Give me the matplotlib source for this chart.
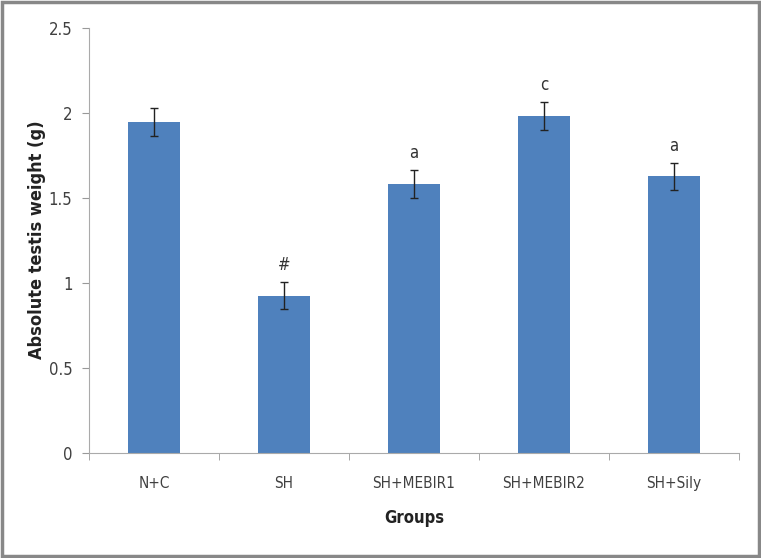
import matplotlib.pyplot as plt
import matplotlib.patches as patches
import numpy as np

plt.rcParams['font.family'] = ['DejaVu Sans']
plt.rcParams['font.stretch'] = 'condensed'

groups = ['N+C', 'SH', 'SH+MEBIR1', 'SH+MEBIR2', 'SH+Sily']
weights = [1.945, 0.922, 1.58, 1.98, 1.626]
errors = [0.08, 0.08, 0.083, 0.083, 0.08]
marks = ['', '#', 'a', 'c', 'a']

fig = plt.figure(figsize=(7.61, 5.58), dpi=100)
ax = fig.add_axes([0.117, 0.1887, 0.854, 0.762])

x = np.arange(len(groups))
ax.bar(x, weights, width=0.4, color='#4f81bd', zorder=2)
ax.errorbar(x, weights, yerr=errors, fmt='none', ecolor='#222222',
            elinewidth=1, capsize=3, capthick=1, zorder=3)

for xi, w, e, m in zip(x, weights, errors, marks):
    if m:
        ax.text(xi, w + e + 0.1, m, ha='center', va='center',
                fontsize=12, color='#333333')

ax.set_xlim(-0.5, len(groups) - 0.5)
ax.set_ylim(0, 2.5)
ax.set_yticks([0, 0.5, 1, 1.5, 2, 2.5])
ax.set_yticklabels(['0', '0.5', '1', '1.5', '2', '2.5'])
ax.set_xticks(x)
ax.set_xticklabels(groups)
ax.set_xticks(np.arange(-0.5, len(groups)), minor=True)
ax.tick_params(axis='x', which='major', length=0, pad=17, labelsize=11, labelcolor='#404040')
ax.tick_params(axis='x', which='minor', length=5, color='#999999')
ax.tick_params(axis='y', length=5, color='#999999', pad=7, labelsize=12, labelcolor='#404040')

for s in ['top', 'right']:
    ax.spines[s].set_visible(False)
for s in ['left', 'bottom']:
    ax.spines[s].set_color('#aaaaaa')

ax.set_ylabel('Absolute testis weight (g)', fontsize=13, fontweight='bold',
              color='#222222', labelpad=2)
ax.set_xlabel('Groups', fontsize=12, fontweight='bold', color='#222222', labelpad=13)

frame = patches.Rectangle((0.003, 0.004), 0.994, 0.992, transform=fig.transFigure,
                          fill=False, edgecolor='#888888', linewidth=2.5)
fig.patches.append(frame)

fig.savefig('out.png', dpi=100)
